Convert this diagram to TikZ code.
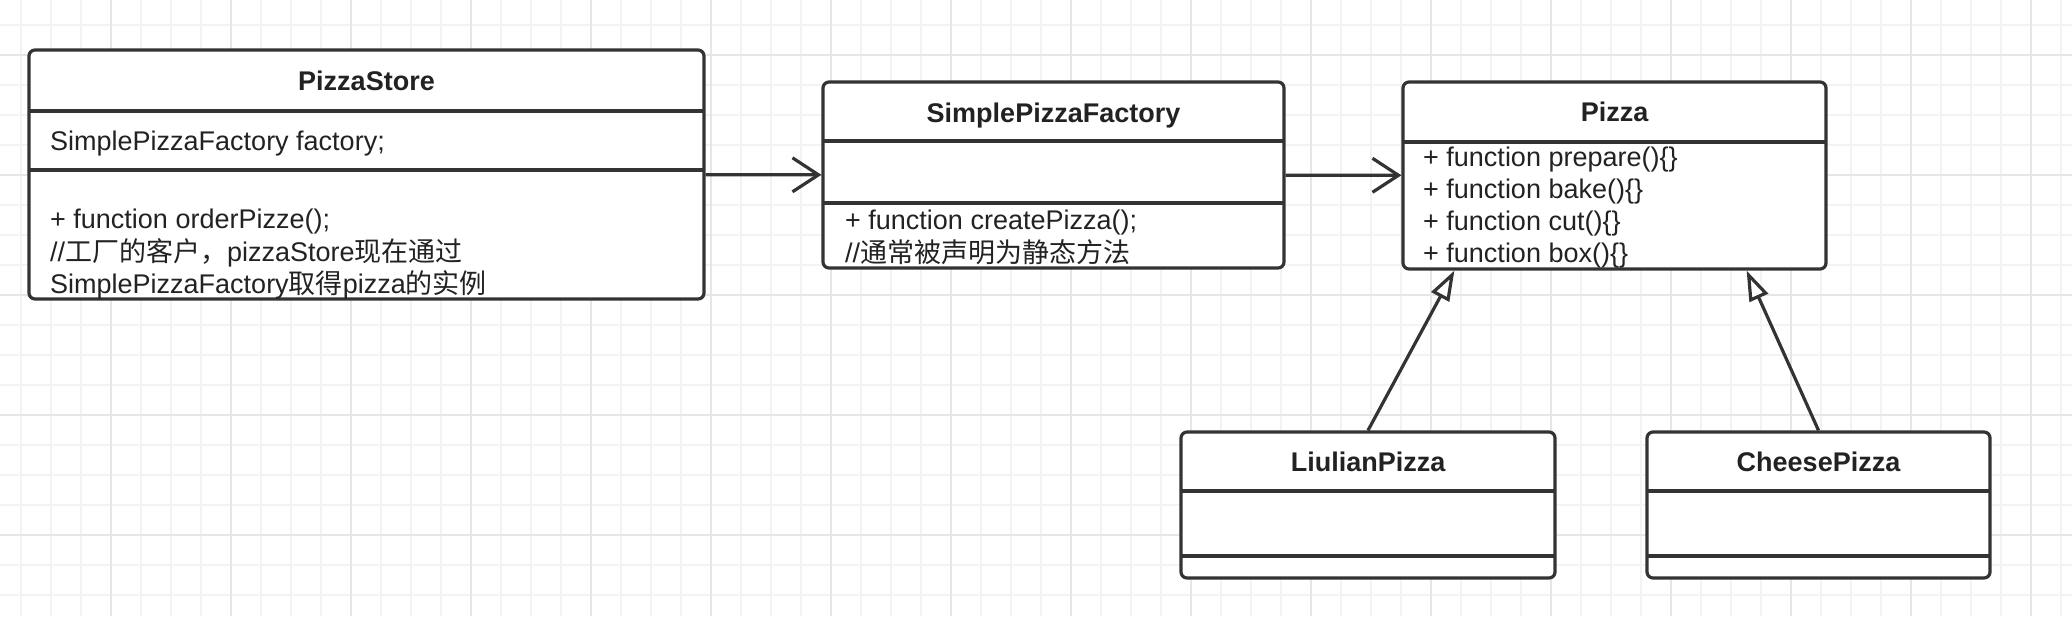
\documentclass[tikz,border=0pt]{standalone}
\usepackage{fontspec}
\setmainfont{Liberation Sans}
\newfontfamily\cjk{Noto Sans CJK SC}
\usepackage{tikz}
\usetikzlibrary{arrows.meta}
\definecolor{trazo}{RGB}{51,51,51}
\definecolor{texto}{RGB}{34,34,34}
\definecolor{rejilla}{RGB}{243,243,243}
\definecolor{rejillab}{RGB}{230,230,230}
\newcommand{\umlfont}{\fontsize{27}{32}\selectfont}

\begin{document}
\begin{tikzpicture}[x=1pt,y=1pt,
    clase/.style={draw=trazo,line width=3.2pt,rounded corners=6pt,fill=white,inner sep=0pt},
    sep/.style={draw=trazo,line width=3.2pt},
    titulo/.style={font=\umlfont\bfseries,text=texto,inner sep=0pt,text height=19pt,text depth=0pt},
    miembro/.style={font=\umlfont,text=texto,anchor=west,inner sep=0pt,text height=19pt,text depth=0pt},
    asoc/.style={draw=trazo,line width=3.2pt,-{Straight Barb[length=26pt,width=34pt]}},
    hereda/.style={draw=trazo,line width=3.2pt,-{Triangle[length=30pt,width=20pt,fill=white]}}]
    \useasboundingbox (0,0) rectangle (2072,-616);

    % Rejilla de fondo.
    \fill[white] (0,0) rectangle (2072,-616);
    \foreach \i in {21,51,...,2071}{\draw[rejilla,line width=2pt] (\i,0)--(\i,-616);}
    \foreach \j in {25,55,...,595}{\draw[rejilla,line width=2pt] (0,-\j)--(2072,-\j);}
    \foreach \i in {111,231,...,2031}{\draw[rejillab,line width=2pt] (\i,0)--(\i,-616);}
    \foreach \j in {55,175,...,535}{\draw[rejillab,line width=2pt] (0,-\j)--(2072,-\j);}

    % PizzaStore.
    \node[clase,minimum width=675pt,minimum height=249pt] (store) at (366.5,-174.5) {};
    \draw[sep] (29,-111)--(704,-111) (29,-170)--(704,-170);
    \node[titulo] (storeT) at (366.5,-81) {PizzaStore};
    \node[miembro] (storeA) at (50,-141) {SimplePizzaFactory factory;};
    \node[miembro] (storeM1) at (50,-219) {+ function orderPizze();};
    \node[miembro] (storeM2) at (50,-251.5) {//{\cjk 工厂的客户，}pizzaStore{\cjk 现在通过}};
    \node[miembro] (storeM3) at (50,-284) {SimplePizzaFactory{\cjk 取得}pizza{\cjk 的实例}};

    % SimplePizzaFactory.
    \node[clase,minimum width=461pt,minimum height=186pt] (factory) at (1053.5,-175) {};
    \draw[sep] (823,-141)--(1284,-141) (823,-203)--(1284,-203);
    \node[titulo] (factoryT) at (1053.5,-113) {SimplePizzaFactory};
    \node[miembro] (factoryM1) at (845,-220) {+ function createPizza();};
    \node[miembro] (factoryM2) at (845,-253) {//{\cjk 通常被声明为静态方法}};

    % Pizza.
    \node[clase,minimum width=423pt,minimum height=187pt] (pizza) at (1614.5,-175.5) {};
    \draw[sep] (1403,-142)--(1826,-142);
    \node[titulo] (pizzaT) at (1614.5,-112) {Pizza};
    \node[miembro] (pizzaM1) at (1423,-157) {+ function prepare()\{\}};
    \node[miembro] (pizzaM2) at (1423,-189) {+ function bake()\{\}};
    \node[miembro] (pizzaM3) at (1423,-221) {+ function cut()\{\}};
    \node[miembro] (pizzaM4) at (1423,-252.5) {+ function box()\{\}};

    % Subclases.
    \node[clase,minimum width=374pt,minimum height=146pt] (liulian) at (1368,-505) {};
    \draw[sep] (1181,-491)--(1555,-491) (1181,-556)--(1555,-556);
    \node[titulo] (liulianT) at (1368,-462) {LiulianPizza};
    \node[clase,minimum width=343pt,minimum height=146pt] (cheese) at (1818.5,-505) {};
    \draw[sep] (1647,-491)--(1990,-491) (1647,-556)--(1990,-556);
    \node[titulo] (cheeseT) at (1818.5,-462) {CheesePizza};

    % Relaciones.
    \draw[asoc] (store) -- (factory);
    \draw[asoc] (factory) -- (pizza);
    \draw[hereda] (liulian.north) -- ([xshift=53pt]pizza.south west);
    \draw[hereda] (cheese.north) -- ([xshift=-81pt]pizza.south east);
  \end{tikzpicture}
\end{document}
